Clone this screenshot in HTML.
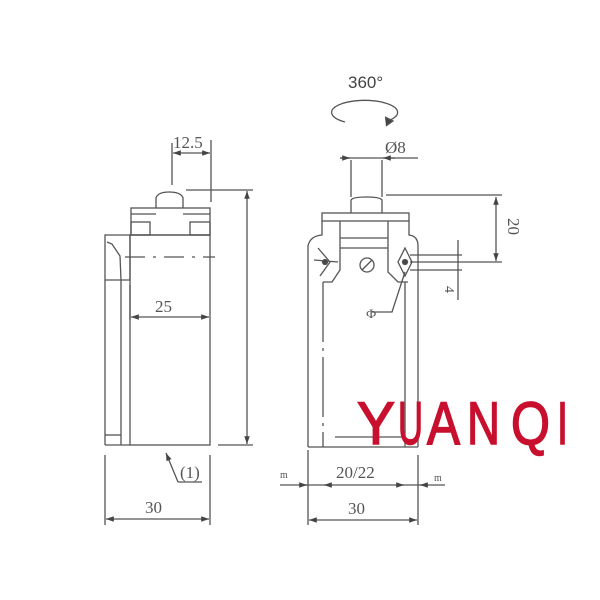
<!DOCTYPE html>
<html><head><meta charset="utf-8"><style>
html,body{margin:0;padding:0;background:#fff;}
svg{display:block}
</style></head><body>
<svg width="600" height="600" viewBox="0 0 600 600" xmlns="http://www.w3.org/2000/svg">
<defs>
<marker id="a" viewBox="0 0 10 10" refX="10" refY="5" markerWidth="6" markerHeight="6" orient="auto-start-reverse"><path d="M0,1.5 L10,5 L0,8.5z" fill="#444"/></marker>
</defs>
<g fill="none" stroke="#555" stroke-width="1.3">
<!-- LEFT VIEW -->
<path d="M156,208 L156,198 Q158,192 169,192 Q181,192 183,198 L183,208"/>
<rect x="131" y="208" width="79" height="27"/>
<line x1="131" y1="214" x2="156" y2="214"/><line x1="183" y1="214" x2="210" y2="214"/>
<rect x="131" y="222" width="19" height="13"/><rect x="190" y="222" width="20" height="13"/>
<rect x="130" y="235" width="80" height="210"/>
<path d="M105,235 L130,235 L130,280 L105,280 Z"/>
<path d="M107,242 L112,244 L120,256 L121,280"/>
<line x1="105" y1="280" x2="105" y2="445"/><line x1="121" y1="280" x2="121" y2="445"/>
<line x1="105" y1="445" x2="130" y2="445"/><line x1="105" y1="435" x2="121" y2="435"/>
<line x1="125" y1="257" x2="215" y2="257" stroke-dasharray="20,8,3,8"/>
<line x1="130" y1="285" x2="130" y2="320"/>
<line x1="131" y1="317" x2="209" y2="317" marker-start="url(#a)" marker-end="url(#a)"/>
<line x1="172" y1="143" x2="172" y2="185"/><line x1="211" y1="140" x2="211" y2="202"/>
<line x1="173" y1="153" x2="210" y2="153" marker-start="url(#a)" marker-end="url(#a)"/>
<line x1="186" y1="190" x2="253" y2="190"/><line x1="218" y1="445" x2="253" y2="445"/>
<line x1="247" y1="191" x2="247" y2="444" marker-start="url(#a)" marker-end="url(#a)"/>
<line x1="105" y1="455" x2="105" y2="525"/><line x1="210" y1="455" x2="210" y2="525"/>
<line x1="106" y1="519" x2="209" y2="519" marker-start="url(#a)" marker-end="url(#a)"/>
<path d="M178,482 L166,453" marker-end="url(#a)"/><line x1="178" y1="482" x2="202" y2="482"/>
<!-- RIGHT VIEW -->
<path d="M345,122 A33,12 0 1 1 390,120"/>
<path d="M385,117 L393,121 L386,126" fill="#444"/>
<line x1="340" y1="158" x2="418" y2="158"/>
<line x1="340" y1="158" x2="350" y2="158" marker-end="url(#a)"/><line x1="395" y1="158" x2="383" y2="158" marker-end="url(#a)"/>
<line x1="351" y1="160" x2="351" y2="197"/><line x1="382" y1="160" x2="382" y2="197"/>
<path d="M351,213 L351,200 Q353,197 366,197 Q380,197 382,200 L382,213"/>
<line x1="386" y1="195" x2="502" y2="195"/>
<rect x="322" y="213" width="87" height="8"/>
<path d="M322,221 L322,235 Q310,236 308,246 L308,447"/>
<path d="M409,221 L409,235 Q418,236 418,246 L418,447"/>
<path d="M340,221 L340,270 L332,282 L323,282"/>
<path d="M388,221 L388,272 L398,282 L408,282"/>
<line x1="340" y1="238" x2="388" y2="238"/><line x1="340" y1="248" x2="388" y2="248"/>
<line x1="323" y1="282" x2="323" y2="447" stroke-dasharray="60,6,3,6"/>
<line x1="405" y1="282" x2="405" y2="447"/>
<line x1="308" y1="447" x2="418" y2="447"/>
<line x1="335" y1="437" x2="405" y2="437"/>
<path d="M318,248 L330,262 L320,276 M314,260 L338,262"/>
<circle cx="325" cy="262" r="2.5" fill="#444"/>
<path d="M405,248 L412,262 L405,276 L398,262 Z"/>
<circle cx="405" cy="262" r="2.5" fill="#444"/>
<circle cx="367" cy="265" r="7"/><line x1="362" y1="270" x2="372" y2="260"/>
<line x1="410" y1="255" x2="462" y2="255"/><line x1="410" y1="262" x2="502" y2="262"/><line x1="410" y1="270" x2="462" y2="270"/>
<line x1="458" y1="240" x2="458" y2="300"/>
<line x1="496" y1="197" x2="496" y2="261" marker-start="url(#a)" marker-end="url(#a)"/>
<path d="M405,272 L392,312 L372,312"/>
<line x1="280" y1="485" x2="445" y2="485"/>
<line x1="300" y1="485" x2="307" y2="485" marker-end="url(#a)"/><line x1="324" y1="485" x2="330" y2="485" marker-start="url(#a)"/>
<line x1="398" y1="485" x2="404" y2="485" marker-end="url(#a)"/><line x1="420" y1="485" x2="428" y2="485" marker-start="url(#a)"/>
<line x1="308" y1="450" x2="308" y2="525"/><line x1="418" y1="455" x2="418" y2="525"/>
<line x1="309" y1="520" x2="417" y2="520" marker-start="url(#a)" marker-end="url(#a)"/>
</g>
<g font-family="Liberation Serif, serif" fill="#555" font-size="17">
<text x="173" y="148">12.5</text>
<text x="155" y="312">25</text>
<text x="145" y="513">30</text>
<text x="180" y="478">(1)</text>
<text x="385" y="153">Ø8</text>
<text x="336" y="478">20/22</text>
<text x="348" y="514">30</text>
<text x="508" y="218" transform="rotate(90 508 218)">20</text>
<text x="445" y="286" font-size="14" transform="rotate(90 445 286)">4</text>
<text x="366" y="318" font-size="13">Ф</text>
<text x="280" y="478" font-size="10">m</text>
<text x="434" y="481" font-size="10">m</text>
</g>
<text x="348" y="88" font-family="Liberation Sans, sans-serif" font-size="17" fill="#444">360°</text>
<g font-family="Liberation Sans, sans-serif" font-size="60" fill="#c8102e" stroke="#c8102e" stroke-width="1.5">
<text x="357" y="444" textLength="38" lengthAdjust="spacingAndGlyphs">Y</text>
<text x="398" y="444" textLength="25" lengthAdjust="spacingAndGlyphs">U</text>
<text x="427" y="444" textLength="33" lengthAdjust="spacingAndGlyphs">A</text>
<text x="467" y="444" textLength="33" lengthAdjust="spacingAndGlyphs">N</text>
<text x="511" y="444" textLength="39" lengthAdjust="spacingAndGlyphs">Q</text>
<text x="557" y="444" textLength="11" lengthAdjust="spacingAndGlyphs">I</text>
</g>
</svg>
</body></html>
